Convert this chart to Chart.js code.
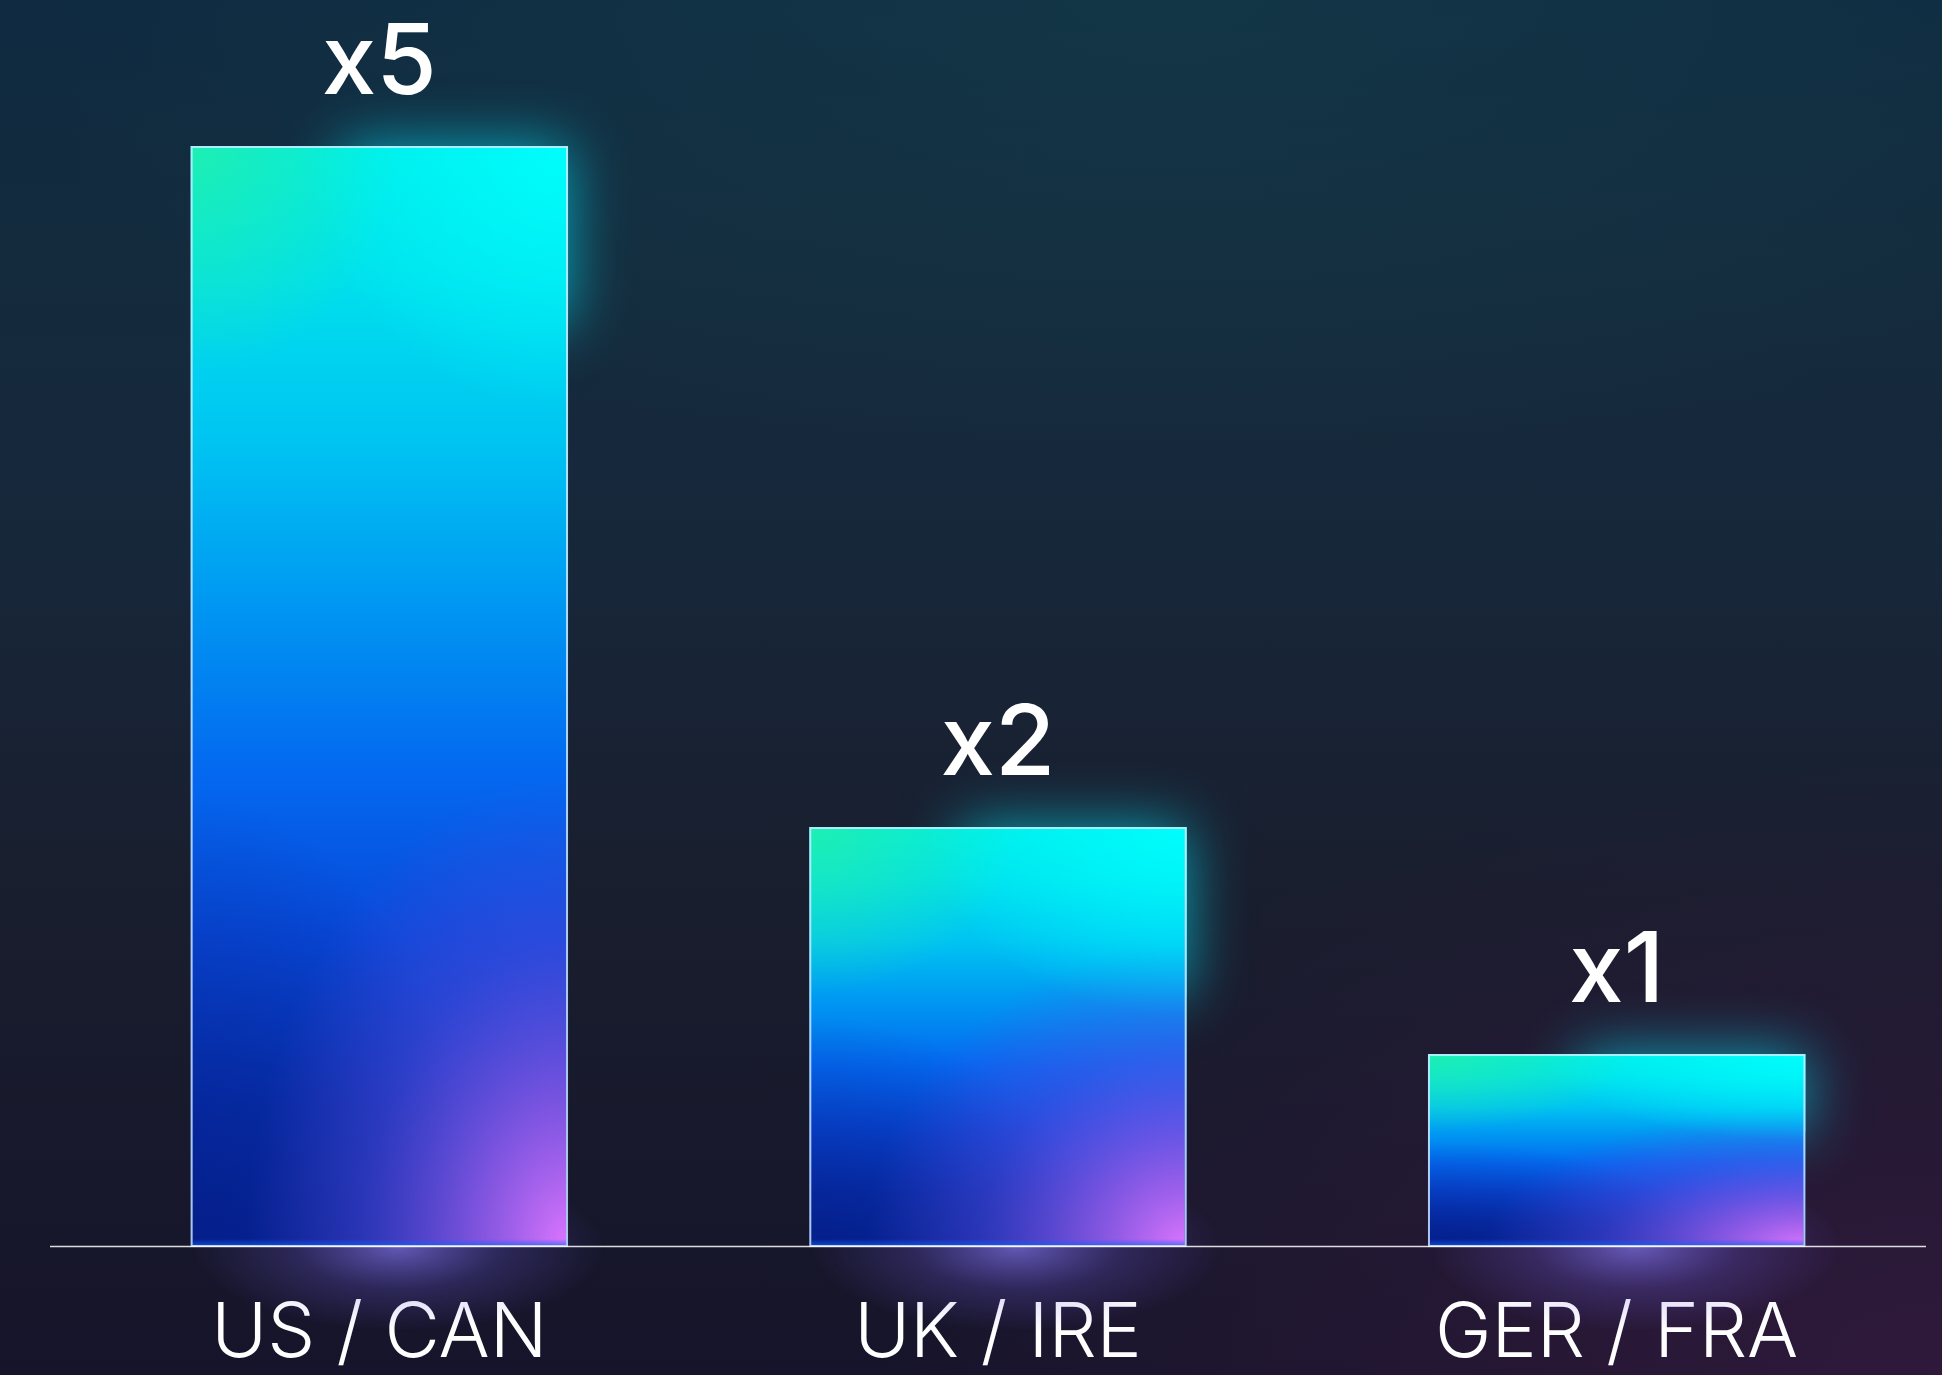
<!DOCTYPE html>
<html>
<head>
<meta charset="utf-8">
<script src="https://cdn.jsdelivr.net/npm/chart.js@4.4.1/dist/chart.umd.min.js"></script>
<style>
    html, body { margin: 0; padding: 0; }
    body {
        width: 1942px;
        height: 1375px;
        overflow: hidden;
        background:
            radial-gradient(ellipse 55% 45% at 100% 100%, rgba(52, 26, 62, 0.85), rgba(52, 26, 62, 0) 100%),
            radial-gradient(ellipse 60% 35% at 60% 0%, rgba(22, 64, 76, 0.55), rgba(22, 64, 76, 0) 100%),
            linear-gradient(180deg, #0f2a41 0%, #142b3d 20%, #17273a 40%, #191e2e 65%, #16142a 100%);
    }
    #wrap { width: 1942px; height: 1375px; position: relative; }
</style>
</head>
<body>
<div id="wrap"><canvas id="regionChart" width="1942" height="1375"></canvas></div>
<script>
const regions = ['US / CAN', 'UK / IRE', 'GER / FRA'];
const multipliers = [5, 2, 1];
const valueLabels = ['x5', 'x2', 'x1'];
const yMin = 0.15;
const yMax = 5;

// vertical fill of one bar, stretched from its own top to its base
function barGradient(ctx) {
    const chart = ctx.chart;
    if (!chart.chartArea) return '#0a6ae8';
    const top = chart.scales.y.getPixelForValue(ctx.raw);
    const base = chart.scales.y.getPixelForValue(yMin);
    const g = chart.ctx.createLinearGradient(0, top, 0, base);
    g.addColorStop(0, '#00ece8');
    g.addColorStop(0.12, '#00e0ec');
    g.addColorStop(0.27, '#00c4f2');
    g.addColorStop(0.42, '#0096f2');
    g.addColorStop(0.57, '#0468f0');
    g.addColorStop(0.72, '#0848d8');
    g.addColorStop(0.87, '#0832b4');
    g.addColorStop(1, '#08289e');
    return g;
}

function radial(c, cx, cy, rx, ry, stops) {
    c.save();
    c.translate(cx, cy);
    c.scale(1, ry / rx);
    const g = c.createRadialGradient(0, 0, 0, 0, 0, rx);
    stops.forEach(s => g.addColorStop(s[0], s[1]));
    c.fillStyle = g;
    c.fillRect(-rx, -rx, rx * 2, rx * 2);
    c.restore();
}

const glowPlugin = {
    id: 'barGlow',
    beforeDatasetsDraw(chart) {
        const c = chart.ctx;
        chart.getDatasetMeta(0).data.forEach(el => {
            const { x, y, base, width } = el.getProps(['x', 'y', 'base', 'width'], true);
            const h = base - y;
            // cyan halo hugging the upper right corner
            c.save();
            c.shadowColor = 'rgba(0,235,255,0.65)';
            c.shadowBlur = 60;
            c.fillStyle = 'rgba(0,235,255,1)';
            c.fillRect(x - width * 0.1, y, width * 0.6, Math.min(h * 0.4, 180));
            c.restore();
            // soft light spilling below the base
            radial(c, x + width * 0.05, base, width * 0.55, 85,
                [[0, 'rgba(130,118,240,0.7)'], [0.5, 'rgba(110,92,225,0.25)'], [1, 'rgba(110,90,220,0)']]);
        });
    },
    afterDatasetsDraw(chart) {
        const c = chart.ctx;
        chart.getDatasetMeta(0).data.forEach((el, i) => {
            const { x, y, base, width } = el.getProps(['x', 'y', 'base', 'width'], true);
            const left = x - width / 2, right = x + width / 2, h = base - y;
            c.save();
            c.beginPath();
            c.rect(left + 2, y + 2, width - 4, h - 4);
            c.clip();
            // deep navy towards the bottom left
            radial(c, left, base, width * 0.75, Math.min(h * 0.55, width * 1.2),
                [[0, 'rgba(2,22,120,0.55)'], [1, 'rgba(2,22,120,0)']]);
            // purple corner at the bottom right
            radial(c, right, base, width * 0.85, Math.min(width * 1.25, h * 0.72),
                [[0, 'rgba(222,118,255,1)'], [0.3, 'rgba(168,98,242,0.72)'], [0.65, 'rgba(98,78,228,0.38)'], [1, 'rgba(90,70,220,0)']]);
            // green tint at the top left, bright cyan at the top right
            radial(c, left, y, width * 0.55, Math.min(width * 0.6, h * 0.4),
                [[0, 'rgba(45,240,150,0.65)'], [1, 'rgba(45,240,150,0)']]);
            radial(c, right, y, width * 0.7, Math.min(width * 0.7, h * 0.45),
                [[0, 'rgba(0,255,255,0.9)'], [1, 'rgba(0,255,255,0)']]);
            // thin bright blue rim along the bottom
            const rim = c.createLinearGradient(0, base - 8, 0, base);
            rim.addColorStop(0, 'rgba(20,95,255,0)');
            rim.addColorStop(1, 'rgba(20,95,255,0.75)');
            c.fillStyle = rim;
            c.fillRect(left, base - 8, width, 8);
            c.restore();

            c.save();
            c.strokeStyle = 'rgba(215,238,255,0.8)';
            c.lineWidth = 2;
            c.strokeRect(left + 1, y + 1, width - 2, h - 2);
            c.restore();

            // multiplier above each bar
            c.save();
            c.fillStyle = '#ffffff';
            c.font = '500 98px Inter';
            c.textAlign = 'center';
            c.textBaseline = 'alphabetic';
            c.fillText(valueLabels[i], x, y - 52);
            c.restore();
        });

        // base line
        const area = chart.chartArea;
        const yb = chart.scales.y.getPixelForValue(yMin);
        c.save();
        c.strokeStyle = 'rgba(255,255,255,0.85)';
        c.lineWidth = 1.5;
        c.beginPath();
        c.moveTo(area.left - 20, yb - 0.5);
        c.lineTo(area.right, yb - 0.5);
        c.stroke();
        c.restore();
    }
};

new Chart(document.getElementById('regionChart'), {
    type: 'bar',
    data: {
        labels: regions,
        datasets: [{
            data: multipliers,
            base: yMin,
            backgroundColor: barGradient,
            borderWidth: 0,
            categoryPercentage: 1,
            barPercentage: 0.61
        }]
    },
    plugins: [glowPlugin],
    options: {
        responsive: false,
        animation: false,
        layout: { padding: { top: 146, left: 70, right: 16, bottom: 0 } },
        plugins: { legend: { display: false }, tooltip: { enabled: false } },
        scales: {
            y: { display: false, min: yMin, max: yMax },
            x: {
                grid: { display: false },
                border: { display: false },
                ticks: {
                    color: '#ffffff',
                    padding: 34,
                    font: { family: 'Inter', size: 76, weight: 300 }
                },
                afterFit(scale) { scale.height = 128; }
            }
        }
    }
});
</script>
</body>
</html>
